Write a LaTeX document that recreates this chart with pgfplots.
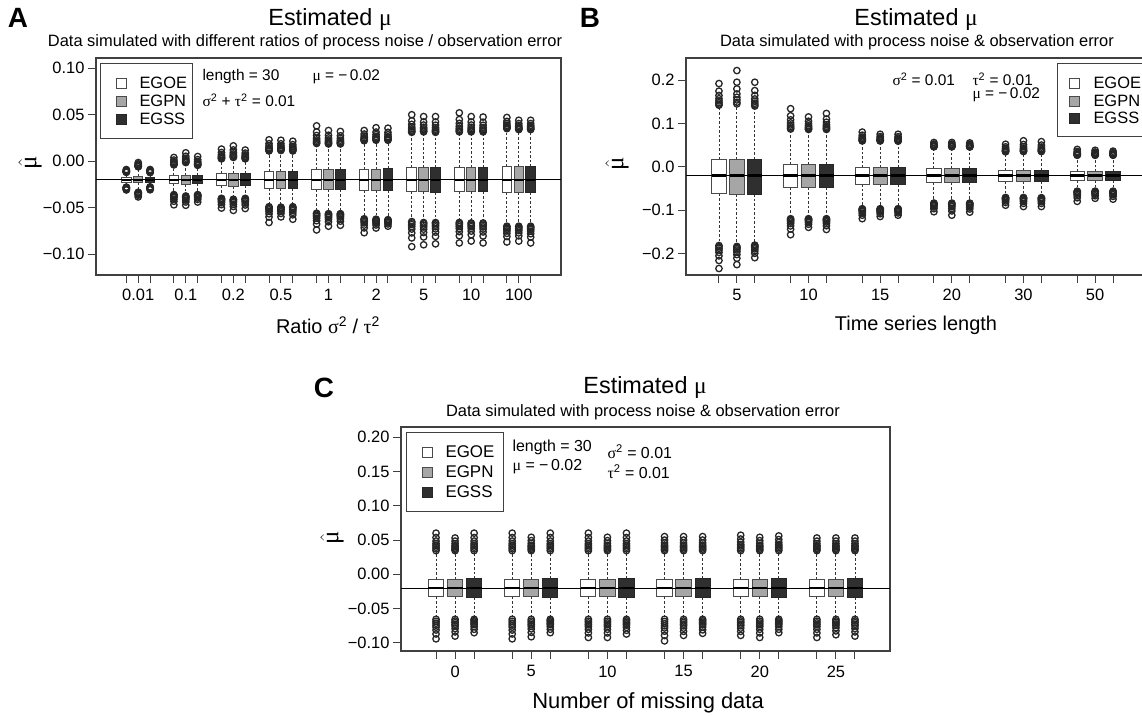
\documentclass[border=0pt]{standalone}
\usepackage{fontspec}
\setmainfont{Liberation Sans}
\newfontfamily\grk{Liberation Serif}
\usepackage{pgfplots}
\pgfplotsset{compat=1.18}
\usepgfplotslibrary{statistics}
\newcommand{\fs}[1]{\fontsize{#1}{#1}\selectfont}
\definecolor{gpn}{HTML}{A6A6A6}
\definecolor{gss}{HTML}{2F2F2F}
\definecolor{edge}{HTML}{4A4A4A}
\pgfplotsset{
 bpbase/.style={mark=o, mark size=3.2bp, mark options={draw=black!85, line width=1.3bp, solid, fill=none},
   boxplot/box extend=0.8, boxplot/whisker extend=0.3,
   boxplot/every whisker/.style={draw=black!80, line width=0.9bp, dash pattern=on 2.5bp off 2bp},
   boxplot/every median/.style={draw=black, line width=2.4bp}},
 egoe/.style={bpbase, boxplot/every box/.style={draw=edge, fill=white, line width=1bp}},
 egpn/.style={bpbase, boxplot/every box/.style={draw=edge, fill=gpn, line width=1bp}},
 egss/.style={bpbase, boxplot/every box/.style={draw=black!85, fill=gss, line width=1bp}},
 panel/.style={scale only axis, anchor=north west, tick align=outside, tick pos=left,
   major tick length=8bp, axis line style={line width=1.1bp, draw=black!75},
   tick style={line width=1bp, draw=black!75}, ticklabel style={font=\fs{16.5}},
   xticklabel style={yshift=-3bp},
   boxplot/draw direction=y, xmin=-0.84, xmax=24.84,
   xtick={1,2,3,5,6,7,9,10,11,13,14,15,17,18,19,21,22,23}}
}
\newcommand{\bp}[7]{\addplot[#1, boxplot prepared={draw position=#2, lower whisker=#3, lower quartile=#4, median=-0.02, upper quartile=#5, upper whisker=#6}] table[row sep=\\,y index=0]{v\\#7};}
\newcommand{\muhat}{$\hat{\mbox{\grk μ}}$}
\begin{document}
\begin{tikzpicture}
\useasboundingbox (0,0) rectangle (1142bp,-716bp);
% ---------------- Panel A
\begin{axis}[panel, at={(96bp,-58bp)}, width=465bp, height=217bp,
  xmin=-1.55, xmax=37.55, ymin=-0.1225, ymax=0.111,
  xtick={1,2,3,5,6,7,9,10,11,13,14,15,17,18,19,21,22,23,25,26,27,29,30,31,33,34,35},
  xticklabels={,0.01,,,0.1,,,0.2,,,0.5,,,1,,,2,,,5,,,10,,,100,},
  ytick={-0.10,-0.05,0,0.05,0.10}, yticklabels={−0.10,−0.05,0.00,0.05,0.10}]
\bp{egoe}{1}{-0.0275}{-0.0228}{-0.0172}{-0.0125}{-0.0120\\-0.0118\\-0.0115\\-0.0112\\-0.0108\\-0.0103\\-0.0097\\-0.0090\\-0.0280\\-0.0282\\-0.0285\\-0.0288\\-0.0292\\-0.0297\\-0.0303\\-0.0310\\}
\bp{egpn}{2}{-0.0330}{-0.0230}{-0.0170}{-0.0065}{-0.0060\\-0.0058\\-0.0054\\-0.0050\\-0.0045\\-0.0038\\-0.0029\\-0.0015\\-0.0335\\-0.0338\\-0.0341\\-0.0345\\-0.0350\\-0.0357\\-0.0367\\-0.0385\\}
\bp{egss}{3}{-0.0272}{-0.0226}{-0.0174}{-0.0128}{-0.0123\\-0.0120\\-0.0117\\-0.0113\\-0.0109\\-0.0104\\-0.0098\\-0.0090\\-0.0277\\-0.0280\\-0.0283\\-0.0287\\-0.0291\\-0.0296\\-0.0302\\-0.0308\\}
\bp{egoe}{5}{-0.0355}{-0.0245}{-0.0155}{-0.0045}{-0.0040\\-0.0036\\-0.0030\\-0.0024\\-0.0016\\-0.0004\\0.0012\\0.0040\\-0.0360\\-0.0365\\-0.0373\\-0.0382\\-0.0393\\-0.0410\\-0.0432\\-0.0470\\}
\bp{egpn}{6}{-0.0370}{-0.0250}{-0.0150}{-0.0020}{-0.0015\\-0.0010\\-0.0002\\0.0006\\0.0017\\0.0032\\0.0053\\0.0090\\-0.0375\\-0.0380\\-0.0387\\-0.0395\\-0.0405\\-0.0420\\-0.0440\\-0.0475\\}
\bp{egss}{7}{-0.0355}{-0.0245}{-0.0155}{-0.0050}{-0.0045\\-0.0040\\-0.0033\\-0.0026\\-0.0016\\-0.0002\\0.0017\\0.0050\\-0.0360\\-0.0364\\-0.0370\\-0.0376\\-0.0384\\-0.0396\\-0.0412\\-0.0440\\}
\bp{egoe}{9}{-0.0390}{-0.0265}{-0.0135}{0.0020}{0.0025\\0.0030\\0.0038\\0.0046\\0.0057\\0.0072\\0.0093\\0.0130\\-0.0400\\-0.0405\\-0.0413\\-0.0421\\-0.0432\\-0.0447\\-0.0468\\-0.0505\\}
\bp{egpn}{10}{-0.0400}{-0.0268}{-0.0132}{0.0035}{0.0040\\0.0046\\0.0055\\0.0065\\0.0078\\0.0096\\0.0121\\0.0165\\-0.0410\\-0.0416\\-0.0424\\-0.0434\\-0.0446\\-0.0464\\-0.0488\\-0.0530\\}
\bp{egss}{11}{-0.0395}{-0.0265}{-0.0135}{0.0020}{0.0025\\0.0030\\0.0036\\0.0044\\0.0054\\0.0068\\0.0087\\0.0120\\-0.0400\\-0.0406\\-0.0413\\-0.0422\\-0.0433\\-0.0450\\-0.0472\\-0.0510\\}
\bp{egoe}{13}{-0.0480}{-0.0290}{-0.0110}{0.0100}{0.0110\\0.0116\\0.0124\\0.0134\\0.0146\\0.0164\\0.0188\\0.0230\\-0.0490\\-0.0499\\-0.0510\\-0.0524\\-0.0541\\-0.0567\\-0.0601\\-0.0660\\}
\bp{egpn}{14}{-0.0485}{-0.0290}{-0.0110}{0.0105}{0.0115\\0.0120\\0.0128\\0.0137\\0.0148\\0.0165\\0.0187\\0.0225\\-0.0495\\-0.0500\\-0.0508\\-0.0516\\-0.0527\\-0.0542\\-0.0563\\-0.0600\\}
\bp{egss}{15}{-0.0480}{-0.0292}{-0.0108}{0.0100}{0.0110\\0.0115\\0.0123\\0.0131\\0.0142\\0.0157\\0.0178\\0.0215\\-0.0490\\-0.0497\\-0.0506\\-0.0517\\-0.0531\\-0.0551\\-0.0578\\-0.0625\\}
\bp{egoe}{17}{-0.0550}{-0.0305}{-0.0095}{0.0180}{0.0190\\0.0200\\0.0213\\0.0228\\0.0247\\0.0276\\0.0314\\0.0380\\-0.0560\\-0.0569\\-0.0582\\-0.0596\\-0.0614\\-0.0641\\-0.0677\\-0.0740\\}
\bp{egpn}{18}{-0.0555}{-0.0305}{-0.0095}{0.0175}{0.0185\\0.0192\\0.0202\\0.0214\\0.0229\\0.0250\\0.0279\\0.0330\\-0.0565\\-0.0572\\-0.0581\\-0.0592\\-0.0606\\-0.0626\\-0.0653\\-0.0700\\}
\bp{egss}{19}{-0.0555}{-0.0307}{-0.0093}{0.0175}{0.0185\\0.0192\\0.0201\\0.0212\\0.0226\\0.0246\\0.0273\\0.0320\\-0.0565\\-0.0571\\-0.0580\\-0.0590\\-0.0602\\-0.0621\\-0.0646\\-0.0690\\}
\bp{egoe}{21}{-0.0610}{-0.0315}{-0.0085}{0.0210}{0.0220\\0.0226\\0.0233\\0.0242\\0.0253\\0.0270\\0.0292\\0.0330\\-0.0620\\-0.0628\\-0.0638\\-0.0650\\-0.0665\\-0.0688\\-0.0718\\-0.0770\\}
\bp{egpn}{22}{-0.0615}{-0.0315}{-0.0085}{0.0215}{0.0225\\0.0232\\0.0241\\0.0252\\0.0266\\0.0286\\0.0313\\0.0360\\-0.0625\\-0.0630\\-0.0636\\-0.0644\\-0.0654\\-0.0668\\-0.0687\\-0.0720\\}
\bp{egss}{23}{-0.0620}{-0.0317}{-0.0083}{0.0215}{0.0225\\0.0232\\0.0241\\0.0251\\0.0264\\0.0284\\0.0310\\0.0355\\-0.0630\\-0.0634\\-0.0638\\-0.0644\\-0.0651\\-0.0662\\-0.0676\\-0.0700\\}
\bp{egoe}{25}{-0.0640}{-0.0330}{-0.0070}{0.0300}{0.0310\\0.0320\\0.0333\\0.0348\\0.0367\\0.0396\\0.0434\\0.0500\\-0.0650\\-0.0664\\-0.0682\\-0.0704\\-0.0731\\-0.0772\\-0.0826\\-0.0920\\}
\bp{egpn}{26}{-0.0650}{-0.0330}{-0.0070}{0.0305}{0.0315\\0.0323\\0.0335\\0.0348\\0.0365\\0.0389\\0.0422\\0.0480\\-0.0660\\-0.0672\\-0.0689\\-0.0708\\-0.0732\\-0.0768\\-0.0816\\-0.0900\\}
\bp{egss}{27}{-0.0650}{-0.0332}{-0.0068}{0.0300}{0.0310\\0.0319\\0.0330\\0.0344\\0.0361\\0.0387\\0.0421\\0.0480\\-0.0660\\-0.0671\\-0.0688\\-0.0706\\-0.0729\\-0.0764\\-0.0810\\-0.0890\\}
\bp{egoe}{29}{-0.0650}{-0.0325}{-0.0065}{0.0305}{0.0315\\0.0325\\0.0340\\0.0356\\0.0377\\0.0407\\0.0448\\0.0520\\-0.0660\\-0.0671\\-0.0686\\-0.0704\\-0.0726\\-0.0759\\-0.0803\\-0.0880\\}
\bp{egpn}{30}{-0.0655}{-0.0325}{-0.0065}{0.0305}{0.0315\\0.0323\\0.0335\\0.0348\\0.0365\\0.0389\\0.0422\\0.0480\\-0.0665\\-0.0675\\-0.0688\\-0.0704\\-0.0724\\-0.0753\\-0.0792\\-0.0860\\}
\bp{egss}{31}{-0.0655}{-0.0327}{-0.0063}{0.0305}{0.0315\\0.0323\\0.0334\\0.0347\\0.0363\\0.0387\\0.0419\\0.0475\\-0.0665\\-0.0676\\-0.0691\\-0.0708\\-0.0730\\-0.0762\\-0.0805\\-0.0880\\}
\bp{egoe}{33}{-0.0690}{-0.0335}{-0.0060}{0.0340}{0.0350\\0.0356\\0.0364\\0.0374\\0.0386\\0.0404\\0.0428\\0.0470\\-0.0700\\-0.0708\\-0.0720\\-0.0734\\-0.0751\\-0.0777\\-0.0811\\-0.0870\\}
\bp{egpn}{34}{-0.0690}{-0.0335}{-0.0060}{0.0330}{0.0340\\0.0345\\0.0352\\0.0360\\0.0370\\0.0385\\0.0405\\0.0440\\-0.0700\\-0.0708\\-0.0719\\-0.0732\\-0.0748\\-0.0772\\-0.0804\\-0.0860\\}
\bp{egss}{35}{-0.0690}{-0.0337}{-0.0058}{0.0330}{0.0340\\0.0345\\0.0352\\0.0360\\0.0370\\0.0385\\0.0405\\0.0440\\-0.0700\\-0.0709\\-0.0722\\-0.0736\\-0.0754\\-0.0781\\-0.0817\\-0.0880\\}
\addplot[black, line width=1.1bp] coordinates {(-1.55,-0.02) (37.55,-0.02)};
\end{axis}
% ---------------- Panel B
\begin{axis}[panel, at={(686bp,-58bp)}, width=460bp, height=217bp,
  ymin=-0.250, ymax=0.251,
  xticklabels={,5,,,10,,,15,,,20,,,30,,,50,},
  ytick={-0.2,-0.1,0,0.1,0.2}, yticklabels={−0.2,−0.1,0.0,0.1,0.2}]
\bp{egoe}{1}{-0.1800}{-0.0620}{0.0160}{0.1400}{0.1420\\0.1445\\0.1480\\0.1520\\0.1570\\0.1645\\0.1745\\0.1920\\-0.1820\\-0.1847\\-0.1884\\-0.1926\\-0.1979\\-0.2059\\-0.2165\\-0.2350\\}
\bp{egpn}{2}{-0.1820}{-0.0630}{0.0170}{0.1430}{0.1450\\0.1489\\0.1542\\0.1604\\0.1681\\0.1797\\0.1951\\0.2220\\-0.1840\\-0.1861\\-0.1890\\-0.1924\\-0.1966\\-0.2029\\-0.2113\\-0.2260\\}
\bp{egss}{3}{-0.1800}{-0.0630}{0.0170}{0.1380}{0.1400\\0.1428\\0.1466\\0.1510\\0.1565\\0.1648\\0.1758\\0.1950\\-0.1810\\-0.1825\\-0.1845\\-0.1868\\-0.1897\\-0.1941\\-0.1999\\-0.2100\\}
\bp{egoe}{5}{-0.1180}{-0.0480}{0.0040}{0.0850}{0.0870\\0.0894\\0.0926\\0.0964\\0.1011\\0.1082\\0.1176\\0.1340\\-0.1200\\-0.1219\\-0.1244\\-0.1274\\-0.1311\\-0.1367\\-0.1441\\-0.1570\\}
\bp{egpn}{6}{-0.1180}{-0.0480}{0.0040}{0.0840}{0.0860\\0.0875\\0.0895\\0.0918\\0.0947\\0.0991\\0.1049\\0.1150\\-0.1200\\-0.1210\\-0.1224\\-0.1240\\-0.1260\\-0.1290\\-0.1330\\-0.1400\\}
\bp{egss}{7}{-0.1180}{-0.0485}{0.0045}{0.0840}{0.0860\\0.0879\\0.0904\\0.0934\\0.0971\\0.1027\\0.1101\\0.1230\\-0.1200\\-0.1213\\-0.1230\\-0.1250\\-0.1275\\-0.1313\\-0.1363\\-0.1450\\}
\bp{egoe}{9}{-0.0950}{-0.0410}{-0.0020}{0.0580}{0.0595\\0.0605\\0.0620\\0.0636\\0.0657\\0.0687\\0.0728\\0.0800\\-0.0970\\-0.0982\\-0.0998\\-0.1016\\-0.1039\\-0.1074\\-0.1120\\-0.1200\\}
\bp{egpn}{10}{-0.0950}{-0.0410}{-0.0020}{0.0580}{0.0595\\0.0603\\0.0614\\0.0626\\0.0642\\0.0665\\0.0696\\0.0750\\-0.0970\\-0.0979\\-0.0992\\-0.1006\\-0.1024\\-0.1051\\-0.1087\\-0.1150\\}
\bp{egss}{11}{-0.0950}{-0.0412}{-0.0018}{0.0575}{0.0590\\0.0598\\0.0609\\0.0622\\0.0638\\0.0662\\0.0694\\0.0750\\-0.0970\\-0.0978\\-0.0988\\-0.1000\\-0.1015\\-0.1038\\-0.1068\\-0.1120\\}
\bp{egoe}{13}{-0.0830}{-0.0370}{-0.0050}{0.0450}{0.0460\\0.0465\\0.0472\\0.0480\\0.0490\\0.0505\\0.0525\\0.0560\\-0.0840\\-0.0850\\-0.0864\\-0.0880\\-0.0900\\-0.0930\\-0.0970\\-0.1040\\}
\bp{egpn}{14}{-0.0830}{-0.0370}{-0.0050}{0.0450}{0.0460\\0.0465\\0.0472\\0.0480\\0.0490\\0.0505\\0.0525\\0.0560\\-0.0840\\-0.0854\\-0.0874\\-0.0896\\-0.0924\\-0.0966\\-0.1022\\-0.1120\\}
\bp{egss}{15}{-0.0830}{-0.0372}{-0.0048}{0.0445}{0.0455\\0.0460\\0.0466\\0.0474\\0.0483\\0.0498\\0.0517\\0.0550\\-0.0840\\-0.0851\\-0.0865\\-0.0882\\-0.0903\\-0.0935\\-0.0977\\-0.1050\\}
\bp{egoe}{17}{-0.0700}{-0.0345}{-0.0080}{0.0330}{0.0345\\0.0354\\0.0366\\0.0380\\0.0398\\0.0424\\0.0459\\0.0520\\-0.0710\\-0.0719\\-0.0732\\-0.0746\\-0.0764\\-0.0791\\-0.0827\\-0.0890\\}
\bp{egpn}{18}{-0.0700}{-0.0345}{-0.0080}{0.0335}{0.0350\\0.0363\\0.0380\\0.0400\\0.0425\\0.0463\\0.0513\\0.0600\\-0.0710\\-0.0721\\-0.0735\\-0.0752\\-0.0773\\-0.0805\\-0.0847\\-0.0920\\}
\bp{egss}{19}{-0.0705}{-0.0347}{-0.0078}{0.0335}{0.0350\\0.0362\\0.0378\\0.0396\\0.0419\\0.0454\\0.0500\\0.0580\\-0.0715\\-0.0725\\-0.0740\\-0.0756\\-0.0777\\-0.0807\\-0.0848\\-0.0920\\}
\bp{egoe}{21}{-0.0550}{-0.0310}{-0.0115}{0.0250}{0.0265\\0.0272\\0.0281\\0.0292\\0.0305\\0.0326\\0.0353\\0.0400\\-0.0565\\-0.0577\\-0.0593\\-0.0612\\-0.0636\\-0.0671\\-0.0718\\-0.0800\\}
\bp{egpn}{22}{-0.0550}{-0.0310}{-0.0115}{0.0250}{0.0265\\0.0271\\0.0279\\0.0288\\0.0300\\0.0317\\0.0340\\0.0380\\-0.0565\\-0.0573\\-0.0585\\-0.0598\\-0.0615\\-0.0639\\-0.0672\\-0.0730\\}
\bp{egss}{23}{-0.0550}{-0.0312}{-0.0113}{0.0250}{0.0265\\0.0270\\0.0276\\0.0284\\0.0294\\0.0308\\0.0327\\0.0360\\-0.0565\\-0.0574\\-0.0587\\-0.0602\\-0.0621\\-0.0648\\-0.0685\\-0.0750\\}
\addplot[black, line width=1.1bp] coordinates {(-0.84,-0.02) (24.84,-0.02)};
\end{axis}
% ---------------- Panel C
\begin{axis}[panel, at={(401bp,-427bp)}, width=489bp, height=224bp,
  ymin=-0.1117, ymax=0.2146,
  xticklabels={,0,,,5,,,10,,,15,,,20,,,25,},
  ytick={-0.10,-0.05,0,0.05,0.10,0.15,0.20}, yticklabels={−0.10,−0.05,0.00,0.05,0.10,0.15,0.20}]
\bp{egoe}{1}{-0.0640}{-0.0330}{-0.0073}{0.0330}{0.0345\\0.0371\\0.0396\\0.0422\\0.0447\\0.0485\\0.0536\\0.0600\\-0.0655\\-0.0684\\-0.0712\\-0.0741\\-0.0769\\-0.0812\\-0.0869\\-0.0940\\}
\bp{egpn}{2}{-0.0640}{-0.0330}{-0.0073}{0.0330}{0.0345\\0.0364\\0.0382\\0.0401\\0.0419\\0.0447\\0.0484\\0.0530\\-0.0655\\-0.0680\\-0.0704\\-0.0729\\-0.0753\\-0.0790\\-0.0839\\-0.0900\\}
\bp{egss}{3}{-0.0640}{-0.0335}{-0.0068}{0.0330}{0.0345\\0.0371\\0.0396\\0.0422\\0.0447\\0.0485\\0.0536\\0.0600\\-0.0655\\-0.0675\\-0.0694\\-0.0714\\-0.0733\\-0.0762\\-0.0801\\-0.0850\\}
\bp{egoe}{5}{-0.0640}{-0.0330}{-0.0073}{0.0330}{0.0345\\0.0371\\0.0396\\0.0422\\0.0447\\0.0485\\0.0536\\0.0600\\-0.0655\\-0.0684\\-0.0712\\-0.0741\\-0.0769\\-0.0812\\-0.0869\\-0.0940\\}
\bp{egpn}{6}{-0.0640}{-0.0330}{-0.0073}{0.0330}{0.0345\\0.0365\\0.0384\\0.0404\\0.0423\\0.0452\\0.0491\\0.0540\\-0.0655\\-0.0681\\-0.0706\\-0.0732\\-0.0757\\-0.0795\\-0.0846\\-0.0910\\}
\bp{egss}{7}{-0.0640}{-0.0335}{-0.0068}{0.0330}{0.0345\\0.0371\\0.0396\\0.0422\\0.0447\\0.0485\\0.0536\\0.0600\\-0.0655\\-0.0675\\-0.0694\\-0.0714\\-0.0733\\-0.0762\\-0.0801\\-0.0850\\}
\bp{egoe}{9}{-0.0640}{-0.0330}{-0.0073}{0.0330}{0.0345\\0.0371\\0.0396\\0.0422\\0.0447\\0.0485\\0.0536\\0.0600\\-0.0655\\-0.0682\\-0.0708\\-0.0735\\-0.0761\\-0.0801\\-0.0854\\-0.0920\\}
\bp{egpn}{10}{-0.0640}{-0.0330}{-0.0073}{0.0330}{0.0345\\0.0365\\0.0384\\0.0404\\0.0423\\0.0452\\0.0491\\0.0540\\-0.0655\\-0.0682\\-0.0708\\-0.0735\\-0.0761\\-0.0801\\-0.0854\\-0.0920\\}
\bp{egss}{11}{-0.0640}{-0.0335}{-0.0068}{0.0330}{0.0345\\0.0371\\0.0396\\0.0422\\0.0447\\0.0485\\0.0536\\0.0600\\-0.0655\\-0.0677\\-0.0698\\-0.0720\\-0.0741\\-0.0773\\-0.0816\\-0.0870\\}
\bp{egoe}{13}{-0.0640}{-0.0330}{-0.0073}{0.0330}{0.0345\\0.0366\\0.0386\\0.0407\\0.0427\\0.0458\\0.0499\\0.0550\\-0.0655\\-0.0687\\-0.0718\\-0.0750\\-0.0781\\-0.0828\\-0.0891\\-0.0970\\}
\bp{egpn}{14}{-0.0640}{-0.0330}{-0.0073}{0.0330}{0.0345\\0.0366\\0.0386\\0.0407\\0.0427\\0.0458\\0.0499\\0.0550\\-0.0655\\-0.0679\\-0.0702\\-0.0726\\-0.0749\\-0.0784\\-0.0831\\-0.0890\\}
\bp{egss}{15}{-0.0640}{-0.0335}{-0.0068}{0.0330}{0.0345\\0.0366\\0.0386\\0.0407\\0.0427\\0.0458\\0.0499\\0.0550\\-0.0655\\-0.0676\\-0.0696\\-0.0717\\-0.0737\\-0.0768\\-0.0809\\-0.0860\\}
\bp{egoe}{17}{-0.0640}{-0.0330}{-0.0073}{0.0330}{0.0345\\0.0368\\0.0390\\0.0413\\0.0435\\0.0469\\0.0514\\0.0570\\-0.0655\\-0.0679\\-0.0702\\-0.0726\\-0.0749\\-0.0784\\-0.0831\\-0.0890\\}
\bp{egpn}{18}{-0.0640}{-0.0330}{-0.0073}{0.0330}{0.0345\\0.0365\\0.0384\\0.0404\\0.0423\\0.0452\\0.0491\\0.0540\\-0.0655\\-0.0682\\-0.0708\\-0.0735\\-0.0761\\-0.0801\\-0.0854\\-0.0920\\}
\bp{egss}{19}{-0.0640}{-0.0335}{-0.0068}{0.0330}{0.0345\\0.0367\\0.0388\\0.0410\\0.0431\\0.0463\\0.0506\\0.0560\\-0.0655\\-0.0675\\-0.0694\\-0.0714\\-0.0733\\-0.0762\\-0.0801\\-0.0850\\}
\bp{egoe}{21}{-0.0640}{-0.0330}{-0.0073}{0.0330}{0.0345\\0.0364\\0.0382\\0.0401\\0.0419\\0.0447\\0.0484\\0.0530\\-0.0655\\-0.0682\\-0.0708\\-0.0735\\-0.0761\\-0.0801\\-0.0854\\-0.0920\\}
\bp{egpn}{22}{-0.0640}{-0.0330}{-0.0073}{0.0330}{0.0345\\0.0364\\0.0382\\0.0401\\0.0419\\0.0447\\0.0484\\0.0530\\-0.0655\\-0.0678\\-0.0700\\-0.0723\\-0.0745\\-0.0779\\-0.0824\\-0.0880\\}
\bp{egss}{23}{-0.0640}{-0.0335}{-0.0068}{0.0330}{0.0345\\0.0364\\0.0382\\0.0401\\0.0419\\0.0447\\0.0484\\0.0530\\-0.0655\\-0.0680\\-0.0704\\-0.0729\\-0.0753\\-0.0790\\-0.0839\\-0.0900\\}
\addplot[black, line width=1.1bp] coordinates {(-0.84,-0.02) (24.84,-0.02)};
\end{axis}
% ---------------- Texts A
\node[font=\bfseries\fs{28}] at (18bp,-18bp) {A};
\node[font=\fs{23.5}] at (330bp,-20bp) {Estimated {\grk μ}};
\node[font=\fs{16.5}] at (305bp,-42bp) {Data simulated with different ratios of process noise / observation error};
\node[font=\fs{20}] at (328bp,-325bp) {Ratio {\grk σ}\textsuperscript{2} / {\grk τ}\textsuperscript{2}};
\node[rotate=90, font=\fs{25}] at (30bp,-163bp) {\muhat};
\draw[line width=1bp, draw=black!75] (100bp,-63bp) rectangle (192bp,-138bp);
\draw[draw=edge, fill=white, line width=0.9bp] (116bp,-78bp) rectangle (126bp,-88bp);
\draw[draw=edge, fill=gpn, line width=0.9bp] (116bp,-96bp) rectangle (126bp,-106bp);
\draw[draw=black!85, fill=gss, line width=0.9bp] (116bp,-114bp) rectangle (126bp,-124bp);
\node[anchor=west, font=\fs{16.5}] at (136bp,-83bp) {EGOE};
\node[anchor=west, font=\fs{16.5}] at (136bp,-101bp) {EGPN};
\node[anchor=west, font=\fs{16.5}] at (136bp,-119bp) {EGSS};
\node[anchor=west, font=\fs{15.5}] at (199bp,-77bp) {length = 30};
\node[anchor=west, font=\fs{15.5}] at (309bp,-77bp) {{\grk μ} = −\,0.02};
\node[anchor=west, font=\fs{15.5}] at (199bp,-100bp) {{\grk σ}\textsuperscript{2} + {\grk τ}\textsuperscript{2} = 0.01};
% ---------------- Texts B
\node[font=\bfseries\fs{28}] at (590bp,-18bp) {B};
\node[font=\fs{23.5}] at (916bp,-20bp) {Estimated {\grk μ}};
\node[font=\fs{16.5}] at (917bp,-42bp) {Data simulated with process noise \& observation error};
\node[font=\fs{20}] at (916bp,-325bp) {Time series length};
\node[rotate=90, font=\fs{25}] at (617bp,-164bp) {\muhat};
\draw[line width=1bp, draw=black!75] (1057bp,-63bp) rectangle (1160bp,-136bp);
\draw[draw=edge, fill=white, line width=0.9bp] (1069bp,-78bp) rectangle (1079bp,-88bp);
\draw[draw=edge, fill=gpn, line width=0.9bp] (1069bp,-96bp) rectangle (1079bp,-106bp);
\draw[draw=black!85, fill=gss, line width=0.9bp] (1069bp,-113bp) rectangle (1079bp,-123bp);
\node[anchor=west, font=\fs{16.5}] at (1090bp,-83bp) {EGOE};
\node[anchor=west, font=\fs{16.5}] at (1090bp,-101bp) {EGPN};
\node[anchor=west, font=\fs{16.5}] at (1090bp,-118bp) {EGSS};
\node[anchor=west, font=\fs{15.5}] at (889bp,-79bp) {{\grk σ}\textsuperscript{2} = 0.01};
\node[anchor=west, font=\fs{15.5}] at (969bp,-79bp) {{\grk τ}\textsuperscript{2} = 0.01};
\node[anchor=west, font=\fs{15.5}] at (969bp,-95bp) {{\grk μ} = −\,0.02};
% ---------------- Texts C
\node[font=\bfseries\fs{28}] at (324bp,-388bp) {C};
\node[font=\fs{23.5}] at (645bp,-388bp) {Estimated {\grk μ}};
\node[font=\fs{16.5}] at (643bp,-412bp) {Data simulated with process noise \& observation error};
\node[font=\fs{22}] at (648bp,-703bp) {Number of missing data};
\node[rotate=90, font=\fs{25}] at (332bp,-538bp) {\muhat};
\draw[line width=1bp, draw=black!75] (406bp,-432bp) rectangle (503bp,-511bp);
\draw[draw=edge, fill=white, line width=0.9bp] (422bp,-447bp) rectangle (432bp,-457bp);
\draw[draw=edge, fill=gpn, line width=0.9bp] (422bp,-467bp) rectangle (432bp,-477bp);
\draw[draw=black!85, fill=gss, line width=0.9bp] (422bp,-487bp) rectangle (432bp,-497bp);
\node[anchor=west, font=\fs{17}] at (442bp,-452bp) {EGOE};
\node[anchor=west, font=\fs{17}] at (442bp,-472bp) {EGPN};
\node[anchor=west, font=\fs{17}] at (442bp,-492bp) {EGSS};
\node[anchor=west, font=\fs{16}] at (509bp,-447bp) {length = 30};
\node[anchor=west, font=\fs{16}] at (509bp,-467bp) {{\grk μ} = −\,0.02};
\node[anchor=west, font=\fs{16}] at (604bp,-452bp) {{\grk σ}\textsuperscript{2} = 0.01};
\node[anchor=west, font=\fs{16}] at (604bp,-472bp) {{\grk τ}\textsuperscript{2} = 0.01};
\end{tikzpicture}
\end{document}
